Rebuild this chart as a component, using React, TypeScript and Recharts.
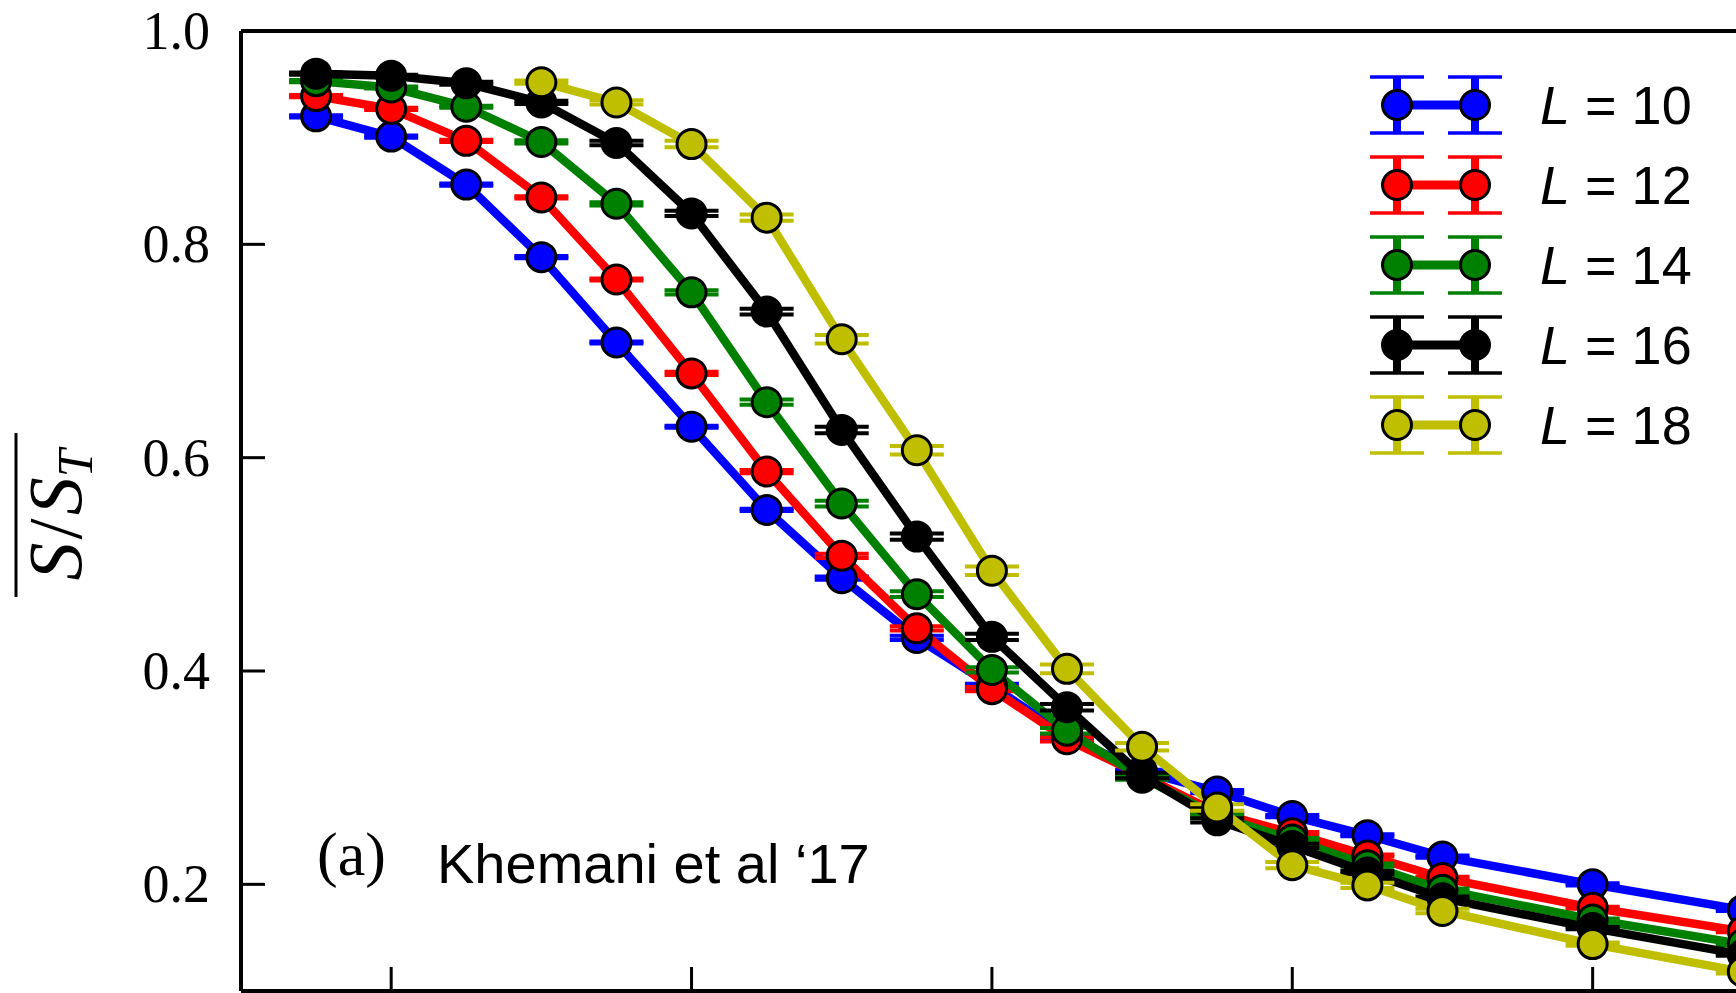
import React from 'react';
import { LineChart, Line, XAxis, YAxis, ErrorBar, Legend, ReferenceLine } from 'recharts';

// disorder strength values (x tick labels are cut off in the source figure)
const disorder = [0.75, 1, 1.25, 1.5, 1.75, 2, 2.25, 2.5, 2.75, 3, 3.25, 3.5, 3.75, 4, 4.25, 4.5, 5, 5.5];

const sL10 = [0.920, 0.901, 0.856, 0.788, 0.708, 0.629, 0.551, 0.487, 0.431, 0.386, 0.339, 0.306, 0.287, 0.264, 0.246, 0.226, 0.200, 0.176];
const sL12 = [0.939, 0.927, 0.897, 0.844, 0.767, 0.679, 0.587, 0.508, 0.440, 0.383, 0.336, 0.302, 0.267, 0.248, 0.227, 0.206, 0.178, 0.156];
const sL14 = [0.953, 0.947, 0.929, 0.896, 0.838, 0.755, 0.652, 0.557, 0.472, 0.401, 0.344, 0.300, 0.264, 0.242, 0.218, 0.195, 0.167, 0.144];
const sL16 = [0.960, 0.958, 0.951, 0.933, 0.895, 0.829, 0.737, 0.626, 0.526, 0.432, 0.366, 0.302, 0.260, 0.236, 0.211, 0.187, 0.159, 0.134];
const sL18 = [null, null, null, 0.952, 0.933, 0.894, 0.825, 0.711, 0.607, 0.494, 0.402, 0.329, 0.272, 0.218, 0.199, 0.175, 0.144, 0.118];

const eL10 = [0.001, 0.001, 0.001, 0.001, 0.001, 0.001, 0.001, 0.0015, 0.002, 0.002, 0.002, 0.0015, 0.0015, 0.001, 0.001, 0.001, 0.001, 0.001];
const eL12 = [0.001, 0.001, 0.001, 0.001, 0.001, 0.0015, 0.0015, 0.002, 0.002, 0.002, 0.002, 0.0015, 0.0015, 0.001, 0.001, 0.001, 0.001, 0.001];
const eL14 = [0.001, 0.001, 0.001, 0.0015, 0.0015, 0.002, 0.0025, 0.0027, 0.0027, 0.0025, 0.0025, 0.002, 0.002, 0.0015, 0.0015, 0.001, 0.001, 0.001];
const eL16 = [0.001, 0.001, 0.0015, 0.0015, 0.002, 0.0025, 0.0027, 0.003, 0.003, 0.003, 0.003, 0.0025, 0.002, 0.002, 0.0015, 0.0015, 0.001, 0.001];
const eL18 = [null, null, null, 0.0015, 0.002, 0.003, 0.003, 0.004, 0.004, 0.004, 0.004, 0.0035, 0.003, 0.003, 0.0025, 0.002, 0.0015, 0.0015];

const sizes = [10, 12, 14, 16, 18];
const colors = ['#0000ff', '#ff0000', '#008000', '#000000', '#bfbf00'];
const xTicks = [1, 2, 3, 4, 5];
const yTicks = [0.2, 0.4, 0.6, 0.8, 1.0];

const series = [
  { key: 'L10', errKey: 'e10', L: sizes[0], color: colors[0], values: sL10, errs: eL10 },
  { key: 'L12', errKey: 'e12', L: sizes[1], color: colors[1], values: sL12, errs: eL12 },
  { key: 'L14', errKey: 'e14', L: sizes[2], color: colors[2], values: sL14, errs: eL14 },
  { key: 'L16', errKey: 'e16', L: sizes[3], color: colors[3], values: sL16, errs: eL16 },
  { key: 'L18', errKey: 'e18', L: sizes[4], color: colors[4], values: sL18, errs: eL18 },
];

const rows = disorder.map((w, i) => {
  const row: Record<string, number | null> = { w };
  series.forEach(s => {
    row[s.key] = s.values[i];
    row[s.errKey] = s.errs[i];
  });
  return row;
});

const serif = '"Liberation Serif", "Times New Roman", serif';
const sans = '"Liberation Sans", Arial, Helvetica, sans-serif';

// ticks point inward, as in the matplotlib original
const XTick = ({ x, y }: any) => (
  <line x1={x} x2={x} y1={y} y2={y - 24} stroke="#000" strokeWidth={3} />
);

const YTick = ({ x, y, payload }: any) => (
  <g>
    <line x1={x} x2={x + 24} y1={y} y2={y} stroke="#000" strokeWidth={3} />
    <text x={x - 31} y={y + 18} textAnchor="end" fontFamily={serif} fontSize={54} fill="#000">
      {payload.value.toFixed(1)}
    </text>
  </g>
);

const YTitle = ({ viewBox }: any) => {
  const cy = viewBox.y + viewBox.height / 2 + 4;
  return (
    <g transform={`translate(81, ${cy}) rotate(-90)`}>
      <text x={0} y={0} textAnchor="middle" fontFamily={serif} fontSize={76} fill="#000">
        <tspan fontStyle="italic">S</tspan>
        <tspan dx={3}>/</tspan>
        <tspan fontStyle="italic" dx={3}>S</tspan>
        <tspan fontStyle="italic" fontSize={50} dy={11}>T</tspan>
      </text>
      <line x1={-82} x2={82} y1={-65} y2={-65} stroke="#000" strokeWidth={3} />
    </g>
  );
};

const LegendContent = ({ payload }: any) => (
  <div>
    {(payload ?? []).map((entry: any) => (
      <div key={entry.value} style={{ display: 'flex', alignItems: 'center', height: 80 }}>
        <svg width={146} height={80}>
          <line x1={35} x2={113} y1={40} y2={40} stroke={entry.color} strokeWidth={9} />
          {[35, 113].map(cx => (
            <g key={cx}>
              <line x1={cx} x2={cx} y1={12} y2={68} stroke={entry.color} strokeWidth={8} />
              <line x1={cx - 27} x2={cx + 27} y1={12} y2={12} stroke={entry.color} strokeWidth={3.5} />
              <line x1={cx - 27} x2={cx + 27} y1={68} y2={68} stroke={entry.color} strokeWidth={3.5} />
              <circle cx={cx} cy={40} r={14.5} fill={entry.color} stroke="#000" strokeWidth={3} />
            </g>
          ))}
        </svg>
        <span style={{ marginLeft: 32, fontFamily: sans, fontSize: 54, lineHeight: '80px', color: '#000', whiteSpace: 'nowrap' }}>
          <i>L</i> = {entry.value}
        </span>
      </div>
    ))}
  </div>
);

export default function App() {
  return (
    <div style={{ position: 'fixed', left: 0, top: 0, width: 1736, height: 993, overflow: 'hidden', background: '#fff' }}>
      <LineChart width={1900} height={1021} data={rows} margin={{ top: 31, right: 7, bottom: 0, left: 0 }}>
        <XAxis
          dataKey="w"
          type="number"
          domain={[0.5, 6]}
          ticks={xTicks}
          height={30}
          tickSize={0}
          tickMargin={0}
          tickLine={false}
          tick={(p: any) => <XTick {...p} />}
          axisLine={{ stroke: '#000', strokeWidth: 4 }}
        />
        <YAxis
          type="number"
          domain={[0.1, 1.0]}
          ticks={yTicks}
          width={241}
          tickSize={0}
          tickMargin={0}
          tickLine={false}
          tick={(p: any) => <YTick {...p} />}
          axisLine={{ stroke: '#000', strokeWidth: 4 }}
          label={(p: any) => <YTitle viewBox={p.viewBox} />}
        />
        <ReferenceLine y={1} stroke="#000" strokeWidth={4} />
        {series.map(s => (
          <Line
            key={s.key}
            dataKey={s.key}
            name={String(s.L)}
            stroke={s.color}
            strokeWidth={8.5}
            dot={{ r: 14.5, fill: s.color, stroke: '#000', strokeWidth: 3 }}
            activeDot={false}
            isAnimationActive={false}
            legendType="circle"
          >
            <ErrorBar dataKey={s.errKey} direction="y" width={27} strokeWidth={4} stroke={s.color} isAnimationActive={false} />
          </Line>
        ))}
        <Legend
          layout="vertical"
          align="center"
          verticalAlign="middle"
          content={(p: any) => <LegendContent {...p} />}
          wrapperStyle={{ left: 1362, top: 65, width: 372 }}
        />
      </LineChart>
      <svg width={1736} height={993} style={{ position: 'absolute', left: 0, top: 0, pointerEvents: 'none' }}>
        <text x={317} y={875} fontFamily={serif} fontSize={62} fill="#000">(a)</text>
        <text x={437} y={883} fontFamily={sans} fontSize={56} fill="#000">Khemani et al ‘17</text>
      </svg>
    </div>
  );
}
